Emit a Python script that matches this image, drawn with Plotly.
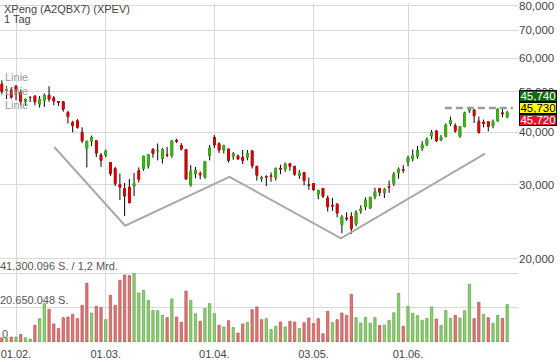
import math
import pandas as pd
import plotly.graph_objects as go

# ---------------- data ----------------
holidays = ["2021-02-15", "2021-04-02", "2021-05-31"]
dates = [d for d in pd.bdate_range("2021-01-27", "2021-06-30")
         if d.strftime("%Y-%m-%d") not in holidays]

opens = [52.1, 50.4, 50.4, 51.5, 49.9, 47.4, 48.5, 48.8, 46.7, 47.7,
         49.0, 48.3, 47.3, 47.3, 44.6, 42.2, 42.6, 40.0, 36.6, 38.1,
         38.2, 35.3, 35.3, 33.9, 32.8, 30.0, 29.4, 29.6, 29.8, 32.4,
         32.8, 33.3, 36.4, 36.1, 34.7, 35.4, 35.2, 38.3, 37.2, 36.4,
         30.0, 31.9, 31.9, 31.3, 35.2, 38.9, 37.6, 36.3, 36.5, 35.1,
         35.1, 34.9, 34.9, 36.1, 33.2, 31.0, 31.4, 31.5, 31.2, 32.85,
         32.7, 33.7, 33.2, 31.6, 32.1, 30.0, 30.2, 28.5, 29.4, 27.9,
         26.8, 27.0, 24.1, 25.0, 25.2, 24.2, 26.0, 26.6, 26.4, 28.1,
         29.4, 28.7, 29.7, 30.2, 32.0, 32.6, 34.0, 34.6, 35.1, 36.6,
         37.4, 39.2, 40.3, 38.4, 39.1, 42.0, 41.5, 39.1, 41.3, 45.0,
         45.2, 42.5, 42.3, 42.4, 41.5, 42.6, 44.5, 43.6]
highs = [53.2, 51.5, 51.2, 51.8, 50.6, 48.2, 48.6, 48.9, 48.8, 49.5,
         51.5, 48.8, 47.5, 47.5, 45.0, 42.6, 43.0, 41.1, 38.1, 39.3,
         38.3, 35.7, 36.4, 33.9, 33.1, 31.9, 30.3, 31.0, 32.0, 33.0,
         35.1, 35.4, 36.7, 37.6, 36.7, 36.9, 38.3, 38.6, 37.7, 36.4,
         33.4, 33.1, 32.3, 34.1, 37.3, 39.4, 37.9, 37.4, 36.5, 35.9,
         35.4, 36.3, 36.3, 36.3, 33.2, 31.5, 31.6, 32.1, 33.0, 33.5,
         33.9, 33.7, 33.2, 32.5, 32.2, 31.2, 30.3, 29.2, 29.4, 28.3,
         27.9, 27.0, 25.4, 25.8, 25.8, 26.1, 26.8, 28.0, 28.1, 29.5,
         29.4, 29.5, 30.7, 32.2, 33.0, 33.4, 35.2, 36.4, 37.1, 38.1,
         38.9, 40.5, 40.5, 39.4, 42.0, 43.6, 42.0, 41.4, 44.8, 46.0,
         45.4, 43.6, 42.9, 42.4, 42.9, 45.6, 45.4, 45.0]
lows = [49.3, 48.0, 48.1, 47.7, 46.4, 46.4, 47.2, 46.4, 45.8, 46.0,
        47.3, 46.4, 46.2, 44.8, 42.0, 40.0, 40.8, 37.7, 33.0, 37.1,
        34.9, 33.1, 34.9, 31.5, 29.8, 27.6, 25.3, 27.1, 28.2, 30.4,
        32.4, 32.8, 34.8, 34.3, 33.7, 34.9, 34.8, 37.7, 36.2, 30.8,
        29.7, 31.1, 30.9, 31.0, 34.3, 36.7, 35.7, 35.6, 33.9, 34.4,
        34.4, 33.6, 34.3, 32.8, 30.7, 30.5, 29.8, 30.5, 30.7, 31.8,
        32.2, 32.4, 31.5, 31.0, 29.9, 29.2, 29.0, 27.7, 27.9, 25.9,
        26.0, 25.1, 23.0, 24.6, 22.9, 23.9, 25.6, 26.1, 26.3, 27.7,
        28.2, 27.9, 28.7, 29.8, 31.0, 32.0, 33.2, 34.1, 34.6, 36.1,
        37.1, 38.5, 37.9, 38.1, 38.9, 41.4, 39.9, 38.8, 41.1, 44.5,
        42.1, 39.7, 41.1, 40.2, 40.9, 42.4, 43.4, 43.2]
closes = [50.0, 50.6, 48.5, 50.4, 47.3, 47.9, 48.4, 47.3, 47.9, 49.0,
          48.0, 47.5, 47.2, 45.4, 43.6, 41.5, 41.1, 38.2, 38.1, 38.9,
          35.7, 34.3, 36.1, 31.9, 30.2, 29.6, 28.2, 27.2, 30.2, 30.9,
          35.1, 35.4, 35.6, 36.2, 36.4, 35.3, 38.2, 38.1, 36.5, 31.0,
          32.3, 32.5, 31.7, 34.1, 36.7, 37.3, 36.3, 37.2, 34.3, 35.6,
          34.6, 34.3, 35.6, 33.3, 31.6, 31.2, 31.3, 31.4, 32.8, 32.7,
          33.6, 33.2, 31.8, 32.0, 30.7, 29.9, 29.2, 29.1, 28.2, 26.6,
          26.7, 25.7, 25.2, 24.9, 23.6, 25.8, 26.3, 27.6, 28.0, 28.9,
          28.8, 29.2, 29.6, 31.8, 32.7, 32.5, 34.8, 35.2, 36.2, 37.4,
          38.5, 39.9, 38.2, 38.9, 41.6, 42.7, 40.3, 41.3, 44.5, 45.6,
          43.8, 40.0, 42.0, 41.3, 42.4, 45.4, 44.3, 44.6]
volumes_mio = [2.5, 2.4, 3.0, 3.0, 4.6, 2.6, 1.8, 10.1, 14.1, 23.2,
               19.7, 10.9, 8.1, 14.7, 15.1, 16.7, 14.1, 22.2, 35.5, 17.5,
               21.6, 20.8, 13.5, 28.2, 22.2, 37.3, 40.5, 40.1, 41.3, 29.6,
               31.2, 25.2, 19.1, 18.9, 16.1, 14.7, 26.0, 15.1, 11.9, 30.8,
               25.2, 17.1, 12.5, 20.2, 23.2, 17.1, 10.1, 9.1, 12.9, 8.7,
               5.4, 10.9, 11.9, 19.5, 21.2, 13.5, 14.1, 7.5, 9.5, 12.1,
               9.1, 12.5, 12.1, 8.1, 11.7, 14.5, 11.1, 14.1, 5.0, 18.5,
               11.7, 13.5, 17.5, 16.1, 28.8, 14.7, 11.5, 14.9, 11.3, 14.7,
               9.9, 10.1, 13.1, 17.7, 29.4, 9.5, 21.6, 17.3, 15.9, 13.1,
               14.3, 21.2, 13.9, 9.9, 19.1, 14.3, 16.1, 14.5, 18.9, 34.9,
               14.1, 24.0, 16.7, 14.7, 11.3, 16.1, 14.3, 22.6]

# hand-drawn trend line ("Linie"): positions in trading-day index and price
trend_idx = [11.1, 26.1, 48.2, 71.8, 102.3]
trend_price = [36.9, 23.96, 31.35, 22.36, 35.58]
resist_level = 45.73
resist_from_idx = 93.8

quote_labels = ["45,740", "45,730", "45,720"]
price_ticks = [20, 30, 40, 50, 60, 70, 80]
price_ticktext = ["20,000", "30,000", "40,000", "50,000", "60,000", "70,000", "80,000"]
vol_ticks = [20.650048, 41.300096]
vol_ticktext = ["20.650.048 S.", "41.300.096 S. / 1,2 Mrd."]

# ---------------- derived ----------------
idx = list(range(len(dates)))
month_first = []
seen = set()
for i, d in enumerate(dates):
    key = (d.year, d.month)
    if key not in seen:
        seen.add(key)
        month_first.append(i)
tick_pos = month_first[1:]
tick_txt = [dates[i].strftime("%d.%m.") for i in tick_pos]

body_hi = [max(o, c) for o, c in zip(opens, closes)]
body_lo = [min(o, c) for o, c in zip(opens, closes)]

RED = "#e00000"
GREEN = "#3cb811"
vol_fill, vol_line = [], []
for i in idx:
    up = i > 0 and closes[i] >= closes[i - 1]
    vol_fill.append("#8fcd76" if up else "#dc7a7a")
    vol_line.append("#5ca640" if up else "#bd4a4a")

GRID = "#d9d9d9"
TXT = "#444444"
FONT = "Liberation Sans, Arial, sans-serif"

fig = go.Figure()

# wicks (black)
fig.add_trace(go.Candlestick(
    x=idx, open=opens, high=highs, low=lows, close=closes,
    increasing=dict(line=dict(color="black", width=1), fillcolor="black"),
    decreasing=dict(line=dict(color="black", width=1), fillcolor="black"),
    whiskerwidth=0, hoverinfo="skip", showlegend=False, xaxis="x", yaxis="y"))
# coloured bodies on top
fig.add_trace(go.Candlestick(
    x=idx, open=opens, high=body_hi, low=body_lo, close=closes,
    increasing=dict(line=dict(color=GREEN, width=1), fillcolor=GREEN),
    decreasing=dict(line=dict(color=RED, width=1), fillcolor=RED),
    whiskerwidth=0, hoverinfo="skip", showlegend=False, xaxis="x", yaxis="y"))

fig.add_trace(go.Scatter(
    x=trend_idx, y=trend_price, mode="lines",
    line=dict(color="#a9a9a9", width=2), hoverinfo="skip", showlegend=False,
    xaxis="x", yaxis="y"))
fig.add_trace(go.Scatter(
    x=[resist_from_idx, len(dates) + 0.2], y=[resist_level, resist_level], mode="lines",
    line=dict(color="#9a9a9a", width=2.5, dash="7px,4px"), hoverinfo="skip",
    showlegend=False, xaxis="x", yaxis="y"))

fig.add_trace(go.Bar(
    x=idx, y=volumes_mio, width=0.5,
    marker=dict(color=vol_fill, line=dict(color=vol_line, width=0.7)),
    hoverinfo="skip", showlegend=False, xaxis="x2", yaxis="y2"))

PLOT_H = 342
split = (342 - 268) / PLOT_H

fig.update_layout(
    width=560, height=362,
    margin=dict(l=0, r=42, t=0, b=20),
    paper_bgcolor="white", plot_bgcolor="white",
    font=dict(family=FONT, size=11, color=TXT),
    hovermode=False, showlegend=False, boxgap=0.5, bargap=0.4,
    xaxis=dict(domain=[0, 1], range=[-0.387, 109.29], anchor="y",
               tickvals=tick_pos, showticklabels=False, showgrid=True,
               gridcolor=GRID, gridwidth=1, zeroline=False, showline=False,
               rangeslider=dict(visible=False), ticks=""),
    xaxis2=dict(domain=[0, 1], matches="x", anchor="y2",
                tickvals=tick_pos, ticktext=tick_txt, showgrid=True,
                gridcolor=GRID, gridwidth=1, zeroline=False, showline=False,
                ticks="outside", ticklen=2, tickcolor="rgba(0,0,0,0)",
                tickfont=dict(size=11, color=TXT)),
    yaxis=dict(type="log", domain=[split, 1], range=[1.2774, 1.9100],
               side="right", anchor="x", tickvals=price_ticks,
               ticktext=price_ticktext, showgrid=True, gridcolor=GRID,
               zeroline=False, showline=False, ticks="",
               ticklabeloverflow="allow",
               tickfont=dict(size=11.5, color=TXT)),
    yaxis2=dict(domain=[0, split], range=[0, 44.3], anchor="x2",
                tickvals=vol_ticks, showticklabels=False, showgrid=True,
                gridcolor=GRID, zeroline=False, showline=False, ticks=""),
)

ann = []
def px_y(py):
    return (PLOT_H - py) / PLOT_H

ann.append(dict(text="XPeng (A2QBX7) (XPEV)", x=2 / 518, y=px_y(6.5), xref="paper", yref="paper",
                xanchor="left", yanchor="middle", showarrow=False,
                font=dict(size=11, color=TXT)))
ann.append(dict(text="1 Tag", x=2 / 518, y=px_y(16.5), xref="paper", yref="paper",
                xanchor="left", yanchor="middle", showarrow=False,
                font=dict(size=11, color=TXT)))
for py in (74.7, 88.3, 102.7):
    ann.append(dict(text="Linie", x=3 / 518, y=px_y(py), xref="paper", yref="paper",
                    xanchor="left", yanchor="middle", showarrow=False,
                    font=dict(size=11, color="#999999")))
# volume scale labels
ann.append(dict(text=vol_ticktext[1], x=-2 / 518, y=vol_ticks[1], xref="paper", yref="y2",
                xanchor="left", yanchor="bottom", showarrow=False,
                font=dict(size=11, color="#555555")))
ann.append(dict(text=vol_ticktext[0], x=-2 / 518, y=vol_ticks[0], xref="paper", yref="y2",
                xanchor="left", yanchor="bottom", showarrow=False,
                font=dict(size=11, color="#555555")))
ann.append(dict(text="0", x=0, y=0, xref="paper", yref="y2",
                xanchor="left", yanchor="bottom", showarrow=False,
                font=dict(size=11, color="#555555")))
# quote boxes
box_styles = [("#0f6b12", "white", 12), ("#ffff00", "black", 0), ("#e3132c", "white", -12)]
for txt, (bg, fg, shift) in zip(quote_labels, box_styles):
    ann.append(dict(text=txt, x=1.0, y=math.log10(resist_level), xref="paper", yref="y",
                    xanchor="left", yanchor="middle", yshift=shift, xshift=1,
                    showarrow=False, bgcolor=bg, bordercolor="black", borderwidth=1,
                    borderpad=0, width=36, height=10,
                    font=dict(size=11.5, color=fg)))
fig.update_layout(annotations=ann)

fig.write_html("out.html", config={"displayModeBar": False},
               post_script="document.body.style.margin='0';document.body.style.padding='0';")
